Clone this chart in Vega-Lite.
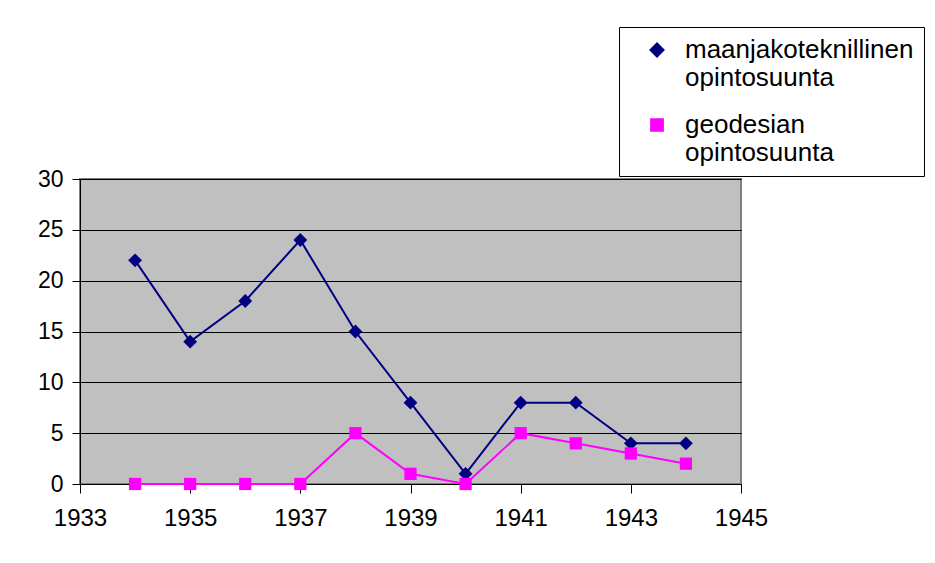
{
  "$schema": "https://vega.github.io/schema/vega-lite/v6.json",
  "width": 661,
  "height": 305,
  "autosize": "none",
  "padding": {"left": 80, "top": 179, "right": 194, "bottom": 79},
  "background": "white",
  "config": {
    "font": "Liberation Sans",
    "view": {"fill": "#C0C0C0", "stroke": "#808080", "strokeWidth": 2},
    "legend": {
      "orient": "none", "legendX": 539, "legendY": -152,
      "direction": "vertical",
      "fillColor": "white", "strokeColor": "black", "padding": 10,
      "labelFontSize": 26, "labelColor": "black", "labelLimit": 0, "labelOffset": 15,
      "symbolOffset": 15, "symbolSize": 3136, "rowPadding": 21
    }
  },
  "data": {
    "values": [
      {"year": 1934, "series": "maanjakoteknillinen opintosuunta", "value": 22},
      {"year": 1935, "series": "maanjakoteknillinen opintosuunta", "value": 14},
      {"year": 1936, "series": "maanjakoteknillinen opintosuunta", "value": 18},
      {"year": 1937, "series": "maanjakoteknillinen opintosuunta", "value": 24},
      {"year": 1938, "series": "maanjakoteknillinen opintosuunta", "value": 15},
      {"year": 1939, "series": "maanjakoteknillinen opintosuunta", "value": 8},
      {"year": 1940, "series": "maanjakoteknillinen opintosuunta", "value": 1},
      {"year": 1941, "series": "maanjakoteknillinen opintosuunta", "value": 8},
      {"year": 1942, "series": "maanjakoteknillinen opintosuunta", "value": 8},
      {"year": 1943, "series": "maanjakoteknillinen opintosuunta", "value": 4},
      {"year": 1944, "series": "maanjakoteknillinen opintosuunta", "value": 4},
      {"year": 1934, "series": "geodesian opintosuunta", "value": 0},
      {"year": 1935, "series": "geodesian opintosuunta", "value": 0},
      {"year": 1936, "series": "geodesian opintosuunta", "value": 0},
      {"year": 1937, "series": "geodesian opintosuunta", "value": 0},
      {"year": 1938, "series": "geodesian opintosuunta", "value": 5},
      {"year": 1939, "series": "geodesian opintosuunta", "value": 1},
      {"year": 1940, "series": "geodesian opintosuunta", "value": 0},
      {"year": 1941, "series": "geodesian opintosuunta", "value": 5},
      {"year": 1942, "series": "geodesian opintosuunta", "value": 4},
      {"year": 1943, "series": "geodesian opintosuunta", "value": 3},
      {"year": 1944, "series": "geodesian opintosuunta", "value": 2}
    ]
  },
  "encoding": {
    "x": {
      "field": "year", "type": "quantitative",
      "scale": {"domain": [1933, 1945], "nice": false, "zero": false},
      "axis": {
        "title": null, "values": [1933, 1935, 1937, 1939, 1941, 1943, 1945], "format": "d",
        "grid": false, "domainColor": "black", "domainWidth": 1, "tickColor": "black", "tickSize": 9,
        "labelFontSize": 24, "labelColor": "black", "labelPadding": 13, "labelFlush": false, "labelOverlap": false
      }
    },
    "y": {
      "field": "value", "type": "quantitative",
      "scale": {"domain": [0, 30], "nice": false},
      "axis": {
        "title": null, "values": [0, 5, 10, 15, 20, 25, 30],
        "grid": true, "gridColor": "black", "gridOpacity": 1, "gridWidth": 1,
        "domainColor": "black", "domainWidth": 1, "tickColor": "black", "tickSize": 8,
        "labelFontSize": 23, "labelColor": "black", "labelPadding": 9, "labelFlush": false, "labelOverlap": false
      }
    }
  },
  "layer": [
    {
      "mark": {"type": "line", "strokeWidth": 2},
      "encoding": {
        "color": {
          "field": "series", "type": "nominal",
          "scale": {"domain": ["maanjakoteknillinen opintosuunta", "geodesian opintosuunta"], "range": ["#000080", "#FF00FF"]}
        }
      }
    },
    {
      "mark": {"type": "point", "filled": true, "opacity": 1},
      "encoding": {
        "color": {
          "field": "series", "type": "nominal",
          "scale": {"domain": ["maanjakoteknillinen opintosuunta", "geodesian opintosuunta"], "range": ["#000080", "#FF00FF"]},
          "legend": {"title": null, "labelExpr": "split(datum.label, ' ')"}
        },
        "shape": {
          "field": "series", "type": "nominal",
          "scale": {"domain": ["maanjakoteknillinen opintosuunta", "geodesian opintosuunta"], "range": ["diamond", "square"]}
        },
        "size": {
          "field": "series", "type": "nominal",
          "scale": {"domain": ["maanjakoteknillinen opintosuunta", "geodesian opintosuunta"], "range": [190, 150]},
          "legend": null
        }
      }
    }
  ]
}
